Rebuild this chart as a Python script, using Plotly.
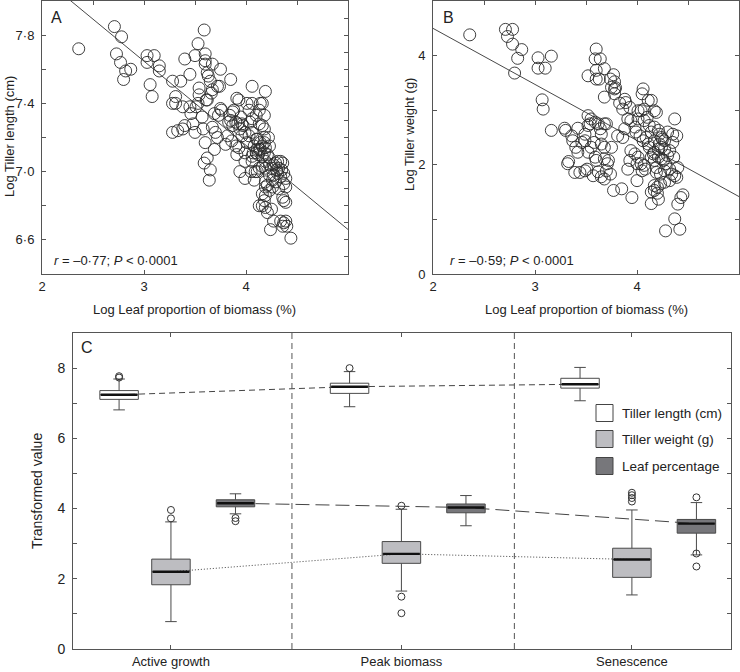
import plotly.graph_objects as go

# ---------------- DATA ----------------
# Panel A: log leaf proportion vs log tiller length
leaf_a = [2.36, 2.71, 2.78, 2.73, 2.77, 2.82, 2.87, 2.80, 3.03, 3.10, 3.03, 3.15, 3.15, 3.06, 3.08,
          3.28, 3.31, 3.28, 3.31, 3.28, 3.33, 3.38, 3.40, 3.40, 3.45, 3.36, 3.38, 3.45, 3.46, 3.48,
          3.50, 3.51, 3.53, 3.53, 3.50, 3.59, 3.60, 3.60, 3.60, 3.67, 3.54, 3.54, 3.61, 3.57, 3.58,
          3.60, 3.59, 3.62, 3.65, 3.64, 3.62, 3.63, 3.65, 3.67, 3.66, 3.62, 3.72, 3.75, 3.74, 3.69,
          3.73, 3.75, 3.76, 3.67, 3.70, 3.72, 3.69, 3.80, 3.82, 3.85, 3.85, 3.88, 3.90, 3.92, 3.95,
          3.93, 3.91, 3.96, 3.97, 3.99, 3.86, 3.90, 3.91, 3.94, 3.99, 3.99, 4.01, 4.01, 4.03, 4.06,
          4.06, 4.04, 4.06, 4.08, 4.10, 4.07, 4.06, 4.08, 4.05, 4.11, 4.13, 4.14, 4.16, 4.18, 4.19,
          4.13, 4.16, 4.18, 4.18, 4.22, 4.14, 4.16, 4.13, 4.11, 4.14, 4.18, 4.19, 4.12, 4.16, 4.21,
          4.23, 4.19, 4.16, 4.13, 4.11, 4.09, 4.19, 4.23, 4.25, 4.27, 4.29, 4.31, 4.34, 4.36, 4.30,
          4.32, 4.35, 4.23, 4.27, 4.31, 4.34, 4.37, 4.39, 4.26, 4.29, 4.19, 4.21, 4.19, 4.23, 4.26,
          4.32, 4.37, 4.39, 4.16, 4.19, 4.18, 4.16, 4.13, 4.19, 4.25, 4.21, 4.36, 4.37, 4.39, 4.27,
          4.34, 4.37, 4.39, 4.36, 4.40, 4.24, 4.44, 3.93, 3.99, 4.06, 4.10, 4.03, 3.96, 3.94, 3.87,
          3.83, 3.87, 3.84, 4.06, 4.10, 4.18, 4.23]
length_a = [7.72, 7.85, 7.79, 7.69, 7.64, 7.59, 7.60, 7.54, 7.68, 7.68, 7.64, 7.62, 7.59, 7.51, 7.44,
            7.53, 7.44, 7.40, 7.40, 7.23, 7.24, 7.25, 7.27, 7.66, 7.57, 7.53, 7.38, 7.38, 7.34, 7.28,
            7.23, 7.38, 7.40, 7.75, 7.68, 7.83, 7.69, 7.65, 7.63, 7.63, 7.49, 7.45, 7.42, 7.32, 7.25,
            7.17, 7.05, 7.08, 7.01, 6.95, 7.58, 7.56, 7.53, 7.48, 7.46, 7.42, 7.50, 7.60, 7.50, 7.34,
            7.33, 7.37, 7.36, 7.26, 7.23, 7.20, 7.13, 7.16, 7.21, 7.54, 7.30, 7.36, 7.29, 7.28, 7.32,
            7.42, 7.43, 7.28, 7.27, 7.23, 7.18, 7.15, 7.10, 7.00, 6.96, 7.06, 7.17, 7.40, 7.36, 7.50,
            7.31, 7.29, 7.23, 7.15, 7.11, 7.11, 7.06, 6.95, 7.00, 7.19, 7.36, 7.40, 7.40, 7.33, 7.47,
            7.28, 7.27, 7.25, 7.20, 7.20, 7.17, 7.15, 7.13, 7.13, 7.13, 7.11, 7.14, 7.10, 7.09, 7.10,
            7.08, 7.06, 7.03, 7.02, 7.00, 7.00, 7.02, 7.04, 7.02, 7.04, 7.05, 7.06, 7.06, 7.05, 7.01,
            7.02, 7.01, 6.98, 6.98, 6.99, 6.97, 6.99, 6.96, 6.95, 6.94, 6.94, 6.92, 6.91, 6.89, 6.91,
            6.90, 6.93, 6.91, 6.87, 6.86, 6.83, 6.80, 6.80, 6.79, 6.78, 6.76, 6.85, 6.83, 6.82, 6.71,
            6.71, 6.70, 6.71, 6.68, 6.68, 6.66, 6.61, 7.14, 7.11, 7.09, 7.19, 7.21, 7.21, 7.25, 7.27,
            7.29, 7.35, 7.33, 7.40, 7.33, 7.17, 7.15]
fit_a = (9.126, -0.493)          # intercept, slope of regression line
stat_a = "<i>r</i> = –0·77; <i>P</i> &lt; 0·0001"

# Panel B: log leaf proportion vs log tiller weight
leaf_b = [2.36, 2.71, 2.78, 2.73, 2.78, 2.87, 2.83, 2.80, 3.03, 3.03, 3.10, 3.16, 3.07, 3.08, 3.16,
          3.29, 3.30, 3.36, 3.37, 3.33, 3.32, 3.40, 3.42, 3.39, 3.49, 3.51, 3.49, 3.46, 3.52, 3.54,
          3.52, 3.52, 3.60, 3.59, 3.64, 3.60, 3.60, 3.63, 3.68, 3.74, 3.77, 3.78, 3.75, 3.68, 3.78,
          3.79, 3.78, 3.83, 3.88, 3.89, 3.93, 3.86, 3.55, 3.59, 3.62, 3.64, 3.65, 3.65, 3.70, 3.68,
          3.58, 3.55, 3.59, 3.60, 3.68, 3.71, 3.72, 3.75, 3.62, 3.65, 3.68, 3.74, 3.57, 3.44, 3.81,
          3.86, 3.88, 3.91, 3.94, 3.98, 3.99, 4.01, 4.04, 4.06, 4.05, 4.07, 4.10, 4.12, 4.14, 4.14,
          4.17, 4.19, 4.17, 4.21, 4.22, 4.24, 4.25, 4.27, 4.30, 4.35, 4.37, 4.39, 4.35, 4.32, 4.27,
          4.24, 4.21, 4.17, 4.16, 4.12, 4.09, 4.06, 4.03, 3.94, 3.98, 4.01, 4.04, 4.07, 4.08, 4.05,
          4.00, 3.93, 3.91, 4.00, 3.95, 3.85, 3.77, 4.14, 4.17, 4.19, 4.19, 4.21, 4.24, 4.26, 4.28,
          4.32, 4.34, 4.37, 4.39, 4.32, 4.27, 4.23, 4.20, 4.17, 4.20, 4.21, 4.14, 4.17, 4.14, 4.40,
          4.43, 4.45, 4.37, 4.42, 4.28, 4.27, 4.23, 4.40, 4.36, 4.30, 4.22, 4.17, 4.11, 4.07, 4.11,
          4.01, 3.52, 3.49, 3.42, 3.68, 3.70]
weight_b = [4.38, 4.48, 4.48, 4.35, 4.21, 4.11, 3.95, 3.68, 3.96, 3.77, 3.77, 3.99, 3.19, 3.02, 2.63,
            2.67, 2.63, 2.53, 2.44, 2.06, 2.02, 2.32, 2.67, 1.86, 1.89, 1.92, 2.56, 2.41, 2.23, 2.75,
            2.90, 3.63, 4.12, 3.94, 3.94, 3.73, 3.57, 3.57, 3.76, 3.57, 3.65, 3.52, 3.42, 3.24, 3.39,
            3.41, 3.30, 3.13, 3.20, 3.14, 3.05, 3.02, 2.84, 2.78, 2.75, 2.66, 2.56, 2.38, 2.75, 2.32,
            2.41, 2.32, 2.14, 2.08, 2.11, 2.02, 2.08, 2.32, 1.87, 1.78, 1.74, 1.83, 1.80, 1.86, 2.53,
            2.50, 2.66, 2.84, 2.81, 2.69, 2.60, 2.84, 2.99, 3.39, 3.30, 3.02, 2.87, 2.72, 2.60, 3.18,
            2.99, 2.96, 2.69, 2.63, 2.56, 2.50, 2.47, 2.44, 2.60, 2.56, 2.84, 2.53, 2.41, 2.26, 2.29,
            2.32, 2.29, 2.23, 2.20, 2.32, 2.50, 2.44, 2.53, 2.26, 2.20, 2.14, 2.02, 1.99, 1.92, 1.89,
            2.02, 2.08, 1.92, 1.71, 1.40, 1.56, 1.53, 2.14, 2.08, 1.95, 1.86, 2.14, 2.11, 2.08, 2.02,
            1.92, 1.83, 1.80, 1.77, 1.71, 1.68, 1.65, 1.59, 1.53, 1.48, 1.37, 1.29, 1.62, 1.50, 1.28,
            1.40, 1.45, 1.01, 0.82, 0.79, 1.89, 1.83, 1.95, 2.14, 2.17, 2.38, 2.44, 2.38, 2.81, 3.18,
            2.99, 2.72, 2.44, 2.23, 2.75, 1.89]
fit_b = (6.553, -1.027)
stat_b = "<i>r</i> = –0·59; <i>P</i> &lt; 0·0001"

# Panel C: box summaries per stage
stages = ["Active growth", "Peak biomass", "Senescence"]
stage_pos = [1, 2, 3]
series = ["Tiller length (cm)", "Tiller weight (g)", "Leaf percentage"]
len_q1 = [7.11, 7.28, 7.43]
len_med = [7.24, 7.47, 7.54]
len_q3 = [7.36, 7.57, 7.71]
len_lo = [6.81, 6.90, 7.07]
len_hi = [7.69, 7.90, 8.02]
len_out = [[7.73, 7.77], [8.00], []]
wt_q1 = [1.83, 2.44, 2.04]
wt_med = [2.20, 2.71, 2.55]
wt_q3 = [2.56, 3.06, 2.87]
wt_lo = [0.78, 1.65, 1.54]
wt_hi = [3.62, 3.98, 3.96]
wt_out = [[3.72, 3.96], [4.08, 1.49, 1.02], [4.45, 4.38, 4.30, 4.20]]
lf_q1 = [4.05, 3.88, 3.30]
lf_med = [4.15, 4.03, 3.57]
lf_q3 = [4.25, 4.13, 3.69]
lf_lo = [3.85, 3.51, 2.68]
lf_hi = [4.42, 4.37, 4.17]
lf_out = [[3.73, 3.64], [], [4.32, 2.72, 2.35]]
stage_bounds = [1.525, 2.49]

# ---------------- STYLE ----------------
FONT = "Liberation Sans, Arial, Helvetica, sans-serif"
TXT = "#222222"
AX = "#555555"
W, H = 740, 672


def px(x):
    return x / W


def py(y):
    return 1 - y / H


fig = go.Figure()

# ---- Panel A ----
fig.add_trace(go.Scatter(x=leaf_a, y=length_a, mode="markers", xaxis="x", yaxis="y",
                         marker=dict(symbol="circle-open", size=12, color="#2a2a2a",
                                     line=dict(width=0.9)), showlegend=False))
xs = [2, 5]
fig.add_trace(go.Scatter(x=xs, y=[fit_a[0] + fit_a[1] * v for v in xs], mode="lines",
                         xaxis="x", yaxis="y", line=dict(color="#333", width=0.9),
                         showlegend=False))
fig.add_trace(go.Scatter(x=[None], y=[None], xaxis="x4", yaxis="y4", showlegend=False))

# ---- Panel B ----
fig.add_trace(go.Scatter(x=leaf_b, y=weight_b, mode="markers", xaxis="x2", yaxis="y2",
                         marker=dict(symbol="circle-open", size=12, color="#2a2a2a",
                                     line=dict(width=0.9)), showlegend=False))
fig.add_trace(go.Scatter(x=xs, y=[fit_b[0] + fit_b[1] * v for v in xs], mode="lines",
                         xaxis="x2", yaxis="y2", line=dict(color="#333", width=0.9),
                         showlegend=False))
fig.add_trace(go.Scatter(x=[None], y=[None], xaxis="x5", yaxis="y5", showlegend=False))

# ---- Panel C ----
offsets = [-0.225, 0.0, 0.28]
bw = 0.167
groups = [
    (len_q1, len_med, len_q3, len_lo, len_hi, len_out, "#ffffff", dict(dash="6px,4px")),
    (wt_q1, wt_med, wt_q3, wt_lo, wt_hi, wt_out, "#bdbdc1", dict(dash="1px,2px")),
    (lf_q1, lf_med, lf_q3, lf_lo, lf_hi, lf_out, "#77777b", dict(dash="14px,6px")),
]
# connecting lines (drawn first, under boxes)
for (q1, med, q3, lo, hi, out, col, dash), off in zip(groups, offsets):
    pos = [p + off for p in stage_pos]
    fig.add_trace(go.Scatter(x=pos, y=med, mode="lines", xaxis="x3", yaxis="y3",
                             line=dict(color="#444", width=1, **dash), showlegend=False))
for (q1, med, q3, lo, hi, out, col, dash), off, name in zip(groups, offsets, series):
    pos = [p + off for p in stage_pos]
    fig.add_trace(go.Box(x=pos, q1=q1, median=med, q3=q3, lowerfence=lo, upperfence=hi,
                         width=bw, whiskerwidth=0.3, fillcolor=col, name=name,
                         line=dict(color="#4a4a4a", width=1), boxpoints=False,
                         xaxis="x3", yaxis="y3", showlegend=False, hoverinfo="skip"))
    mx, my = [], []
    for p, m in zip(pos, med):
        mx += [p - bw / 2 + 0.004, p + bw / 2 - 0.004, None]
        my += [m, m, None]
    fig.add_trace(go.Scatter(x=mx, y=my, mode="lines", xaxis="x3", yaxis="y3",
                             line=dict(color="#111", width=2.4), showlegend=False))
    ox, oy = [], []
    for p, o in zip(pos, out):
        ox += [p] * len(o)
        oy += o
    fig.add_trace(go.Scatter(x=ox, y=oy, mode="markers", xaxis="x3", yaxis="y3",
                             marker=dict(symbol="circle-open", size=7, color="#333",
                                         line=dict(width=1)), showlegend=False))

# ---------------- AXES ----------------
common = dict(showgrid=False, zeroline=False, showline=True, linecolor=AX, linewidth=1,
              ticks="inside", ticklen=4, tickcolor=AX, tickwidth=1, automargin=False,
              tickfont=dict(family=FONT, size=13, color=TXT))
ov = dict(showgrid=False, zeroline=False, showline=False, ticks="inside", ticklen=4,
          tickcolor=AX, tickwidth=1, showticklabels=False, automargin=False)

dom_ax = [px(42), px(348)]
dom_bx = [px(433), px(739)]
dom_y = [py(274), py(1)]

ya_vals = [round(6.4 + 0.2 * i, 1) for i in range(9)]
ya_text = [("%.1f" % v).replace(".", "·") if v in (6.6, 7.0, 7.4, 7.8) else "" for v in ya_vals]

fig.update_layout(
    xaxis=dict(domain=dom_ax, anchor="y", range=[2, 5], tickvals=[2, 3, 4],
               ticktext=["2", "3", "4"], mirror=True, **common),
    yaxis=dict(domain=dom_y, anchor="x", range=[6.4, 8.0], tickvals=ya_vals,
               ticktext=ya_text, mirror=True, ticklabelstandoff=4, **common),
    xaxis4=dict(overlaying="x", side="top", anchor="y4", range=[2, 5],
                tickvals=[2 + 0.5 * i for i in range(7)], **ov),
    yaxis4=dict(overlaying="y", side="right", anchor="x4", range=[6.4, 8.0],
                tickvals=[round(6.4 + 0.1 * i, 1) for i in range(17)], **ov),
    xaxis2=dict(domain=dom_bx, anchor="y2", range=[2, 5], tickvals=[2, 3, 4],
                ticktext=["2", "3", "4"], mirror=True, **common),
    yaxis2=dict(domain=dom_y, anchor="x2", range=[0, 5], tickvals=[0, 1, 2, 3, 4, 5],
                ticktext=["0", "", "2", "", "4", ""], mirror="ticks", ticklabelstandoff=4,
                **common),
    xaxis5=dict(overlaying="x2", side="top", anchor="y5", range=[2, 5],
                tickvals=[2 + 0.5 * i for i in range(7)], **ov),
    yaxis5=dict(overlaying="y2", side="right", anchor="x5", range=[0, 5],
                tickvals=[0, 1, 2, 3, 4, 5], visible=False, automargin=False),
    xaxis3=dict(domain=[px(73), px(731)], anchor="y3", range=[0.575, 3.43],
                tickvals=stage_pos, ticktext=stages, mirror="ticks", **common),
    yaxis3=dict(domain=[py(649), py(333)], anchor="x3", range=[0, 9],
                tickvals=list(range(10)),
                ticktext=[str(v) if v % 2 == 0 else "" for v in range(10)],
                mirror="ticks", ticklabelstandoff=4, **common),
)
fig.update_layout(xaxis3_tickfont_size=13, yaxis3_tickfont_size=14)

# stage dividers
shapes = []
for b in stage_bounds:
    shapes.append(dict(type="line", xref="x3", yref="y3 domain", x0=b, x1=b, y0=0, y1=1,
                       line=dict(color="#555", width=1, dash="6px,4px")))
# legend swatches
leg_cols = ["#ffffff", "#bdbdc1", "#77777b"]
leg_rows = [413, 439, 466]
for c, r in zip(leg_cols, leg_rows):
    shapes.append(dict(type="rect", xref="paper", yref="paper", x0=px(596), x1=px(613),
                       y0=py(r + 8.5), y1=py(r - 8.5), fillcolor=c,
                       line=dict(color="#444", width=1)))

ann = []
def A(text, x, y, size=13, xanchor="center", **kw):
    d = dict(text=text, x=px(x), y=py(y), xref="paper", yref="paper", showarrow=False,
             xanchor=xanchor, yanchor="middle",
             font=dict(family=FONT, size=size, color=TXT))
    d.update(kw)
    ann.append(d)

A("A", 56, 17, size=16)
A("B", 448, 17, size=16)
A("C", 87, 347, size=16)
A(stat_a, 52, 260, xanchor="left")
A(stat_b, 448, 260, xanchor="left")
A("Log Tiller length (cm)", 9, 137, textangle=-90)
A("Log Tiller weight (g)", 409, 135, textangle=-90)
A("Log Leaf proportion of biomass (%)", 195, 309)
A("Log Leaf proportion of biomass (%)", 586, 309)
A("Transformed value", 37, 491, size=14, textangle=-90)
for s, r in zip(series, leg_rows):
    A(s, 620, r, size=13.5, xanchor="left")

fig.update_layout(width=W, height=H, margin=dict(l=0, r=0, t=0, b=0),
                  paper_bgcolor="white", plot_bgcolor="white",
                  shapes=shapes, annotations=ann, showlegend=False,
                  boxmode="overlay", font=dict(family=FONT, color=TXT))

fig.write_html("out.html", config={"displayModeBar": False},
               post_script="document.body.style.margin='0';"
                           "document.body.style.overflow='hidden';")
